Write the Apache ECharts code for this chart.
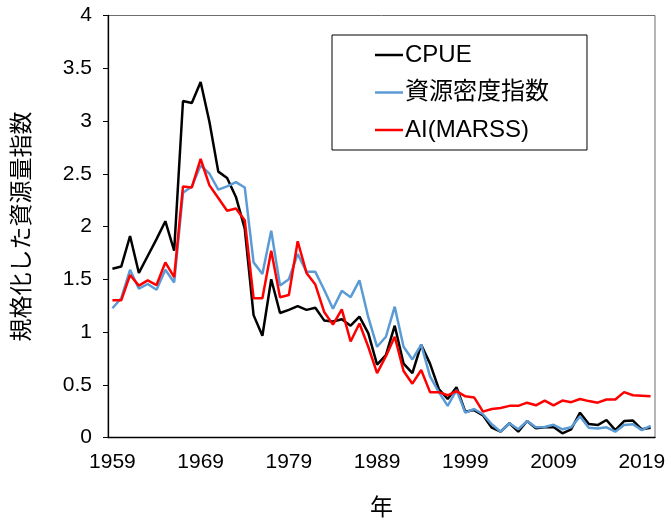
<!DOCTYPE html>
<html>
<head>
<meta charset="utf-8">
<script src="https://cdn.jsdelivr.net/npm/echarts@6/dist/echarts.min.js"></script>
<style>
  html, body { margin: 0; padding: 0; background: #fff; }
  #chart { width: 667px; height: 523px; }
</style>
</head>
<body>
<div id="chart"></div>
<script>
const FONT = "'Liberation Sans', Arial, 'Noto Sans CJK JP', sans-serif"

const years = [
  '1959', '1960', '1961', '1962', '1963', '1964', '1965', '1966', '1967', '1968',
  '1969', '1970', '1971', '1972', '1973', '1974', '1975', '1976', '1977', '1978',
  '1979', '1980', '1981', '1982', '1983', '1984', '1985', '1986', '1987', '1988',
  '1989', '1990', '1991', '1992', '1993', '1994', '1995', '1996', '1997', '1998',
  '1999', '2000', '2001', '2002', '2003', '2004', '2005', '2006', '2007', '2008',
  '2009', '2010', '2011', '2012', '2013', '2014', '2015', '2016', '2017', '2018',
  '2019', '2020',
]

// CPUE
const cpue = [
  1.60, 1.62, 1.91, 1.56, 1.72, 1.88, 2.05, 1.77, 3.19, 3.17,
  3.37, 2.99, 2.52, 2.46, 2.28, 1.98, 1.16, 0.965, 1.50, 1.18,
  1.21, 1.245, 1.21, 1.23, 1.11, 1.10, 1.12, 1.06, 1.145, 0.99,
  0.69, 0.78, 1.06, 0.70, 0.61, 0.88, 0.70, 0.46, 0.365, 0.476,
  0.245, 0.26, 0.21, 0.093, 0.055, 0.135, 0.055, 0.156, 0.087, 0.097,
  0.10, 0.04, 0.078, 0.235, 0.128, 0.118, 0.166, 0.07, 0.156, 0.16,
  0.078, 0.093,
]

// 資源密度指数
const density = [
  1.225, 1.32, 1.59, 1.41, 1.455, 1.40, 1.59, 1.47, 2.32, 2.38,
  2.58, 2.50, 2.35, 2.38, 2.42, 2.37, 1.66, 1.55, 1.96, 1.44,
  1.50, 1.74, 1.57, 1.57, 1.40, 1.22, 1.39, 1.33, 1.49, 1.14,
  0.86, 0.955, 1.24, 0.86, 0.74, 0.88, 0.58, 0.43, 0.30, 0.45,
  0.235, 0.27, 0.22, 0.125, 0.055, 0.135, 0.078, 0.156, 0.097, 0.10,
  0.12, 0.078, 0.097, 0.20, 0.093, 0.085, 0.097, 0.055, 0.118, 0.125,
  0.07, 0.11,
]

// AI(MARSS)
const marss = [
  1.30, 1.30, 1.54, 1.44, 1.49, 1.445, 1.66, 1.52, 2.38, 2.37,
  2.64, 2.39, 2.27, 2.15, 2.17, 2.06, 1.32, 1.32, 1.77, 1.33,
  1.35, 1.86, 1.56, 1.45, 1.19, 1.07, 1.215, 0.91, 1.08, 0.86,
  0.61, 0.77, 0.955, 0.63, 0.51, 0.64, 0.43, 0.43, 0.40, 0.44,
  0.39, 0.38, 0.245, 0.27, 0.28, 0.30, 0.30, 0.33, 0.305, 0.35,
  0.305, 0.35, 0.335, 0.365, 0.345, 0.33, 0.36, 0.36, 0.43, 0.40,
  0.395, 0.39,
]

const SERIES = [
  { name: 'CPUE', data: cpue, color: '#000000' },
  { name: '資源密度指数', data: density, color: '#5B9BD5' },
  { name: 'AI(MARSS)', data: marss, color: '#FF0000' },
]

const chart = echarts.init(document.getElementById('chart'))

chart.setOption({
  animation: false,
  textStyle: { fontFamily: FONT, color: '#000' },
  grid: {
    left: 108, right: 12, top: 15.5, bottom: 85.5,
    outerBoundsMode: 'none',
    containLabel: false,
    show: true, borderColor: '#6e6e6e', borderWidth: 1,
  },
  legend: {
    left: 332,
    top: 35,
    orient: 'vertical',
    padding: [8, 38, 8, 43],
    itemGap: 13.5,
    itemWidth: 28,
    itemHeight: 2.5,
    icon: 'rect',
    borderColor: '#000',
    borderWidth: 1,
    backgroundColor: '#fff',
    textStyle: { fontSize: 24, fontFamily: FONT, color: '#000', padding: [0, 0, 0, -3], lineHeight: 24 },
    data: SERIES.map(s => s.name),
  },
  xAxis: {
    type: 'category',
    data: years,
    boundaryGap: true,
    name: '年',
    nameLocation: 'middle',
    nameGap: 60,
    nameTextStyle: { fontSize: 23, color: '#000' },
    axisLine: { lineStyle: { color: '#000', width: 1.3 } },
    axisTick: { interval: 4, length: 5, lineStyle: { color: '#000' } },
    axisLabel: { interval: 9, fontSize: 21, color: '#000', margin: 14 },
    splitLine: { show: false },
  },
  yAxis: {
    type: 'value',
    min: 0,
    max: 4,
    interval: 0.5,
    name: '規格化した資源量指数',
    nameLocation: 'middle',
    nameRotate: 90,
    nameGap: 74,
    nameTextStyle: { fontSize: 23, color: '#000' },
    axisLine: { show: true, lineStyle: { color: '#000', width: 1.3 } },
    axisTick: { show: true, length: 5, lineStyle: { color: '#000' } },
    axisLabel: { fontSize: 21, color: '#000', margin: 16 },
    splitLine: { show: false },
  },
  series: SERIES.map(s => ({
    name: s.name,
    type: 'line',
    data: s.data,
    symbol: 'none',
    smooth: false,
    color: s.color,
    lineStyle: { color: s.color, width: 2.5 },
  })),
})
</script>
</body>
</html>
